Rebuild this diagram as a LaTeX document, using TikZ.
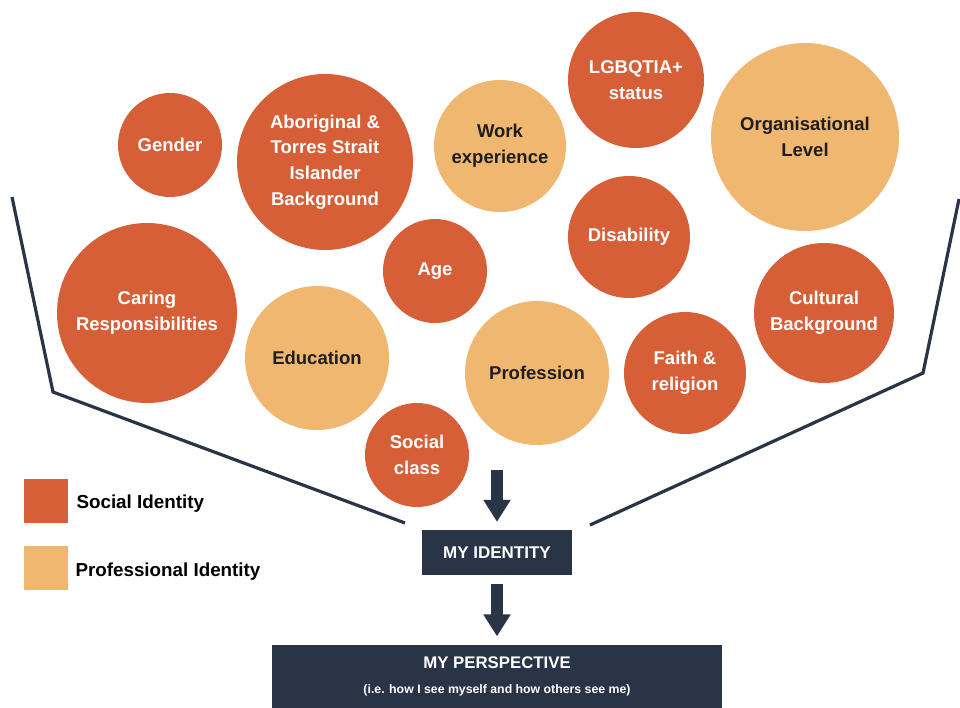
\documentclass[tikz,border=0pt]{standalone}
\usepackage{fontspec}
\setmainfont{Liberation Sans}
\usetikzlibrary{arrows.meta}

\definecolor{socialc}{HTML}{D65F37}
\definecolor{profc}{HTML}{F0B771}
\definecolor{navyc}{HTML}{2A3447}
\definecolor{inkc}{HTML}{1E1E1E}

\tikzset{
  social/.style={circle, fill=socialc, text=white},
  prof/.style={circle, fill=profc, text=inkc},
  funnel/.style={draw=navyc, line width=3.2pt, line join=miter},
  idbox/.style={fill=navyc, text=white, inner sep=0pt, align=center,
    font=\bfseries},
  blockarrow/.style={draw=navyc, line width=12pt,
    -{Triangle[width=26pt,length=22pt]}},
  keybox/.style={fill=#1, minimum size=44pt, inner sep=0pt},
  keytext/.style={anchor=west, text=black, font=\fontsize{18.8}{22}\selectfont\bfseries},
}

% Helper: one bubble: name, centre (x,y), radius, style, text
\newcommand{\bubble}[5]{%
  \node[#4, minimum size=2*#3, inner sep=0pt, align=center,
        font=\fontsize{18.5}{25.7}\selectfont\bfseries] (#1) at (#2) {#5};
}

\begin{document}
\begin{tikzpicture}[x=1pt, y=-1pt]
\useasboundingbox (0,0) rectangle (960,707);

% --- funnel ---
\draw[funnel] (12,197) -- (53,392) -- (405,523);
\draw[funnel] (959,199) -- (923,373) -- (590,525);

% --- bubbles ---
\bubble{gender}{170,145}{52}{social}{Gender}
\bubble{atsi}{325,162}{88}{social}{Aboriginal \&\\Torres Strait\\Islander\\Background}
\bubble{work}{500,146}{66}{prof}{Work\\experience}
\bubble{lgbt}{636,80}{68}{social}{LGBQTIA+\\status}
\bubble{orglevel}{805,137}{94}{prof}{Organisational\\Level}
\bubble{disab}{629,237}{61}{social}{Disability}
\bubble{age}{435,271}{52}{social}{Age}
\bubble{caring}{147,313}{90}{social}{Caring\\Responsibilities}
\bubble{edu}{317,358}{72}{prof}{Education}
\bubble{prof}{537,373}{72}{prof}{Profession}
\bubble{faith}{685,373}{61}{social}{Faith \&\\religion}
\bubble{culture}{824,313}{70}{social}{Cultural\\Background}
\bubble{class}{417,455}{52}{social}{Social\\class}

% --- legend ---
\node[keybox=socialc] (keysoc) at (46,501) {};
\node[keytext] (keysoct) at (73,504) {Social Identity};
\node[keybox=profc] (keypro) at (46,568) {};
\node[keytext] (keyprot) at (72,572) {Professional Identity};

% --- outcome boxes ---
\node[idbox, minimum width=150pt, minimum height=45pt,
      font=\fontsize{17}{20}\selectfont\bfseries] (ident) at (497,552.5) {MY IDENTITY};
\node[idbox, minimum width=450pt, minimum height=63pt,
      font=\fontsize{16.8}{25}\selectfont\bfseries] (persp) at (497,676)
  {MY PERSPECTIVE\\{\fontsize{12.3}{25}\selectfont (i.e. how I see myself and how others see me)}};

% --- arrows ---
\coordinate (intop) at (497,470);
\draw[blockarrow] (intop) -- ([yshift=8pt]ident.north);
\draw[blockarrow, shorten <=9pt, shorten >=8pt] (ident.south) -- (persp.north);

\end{tikzpicture}
\end{document}
